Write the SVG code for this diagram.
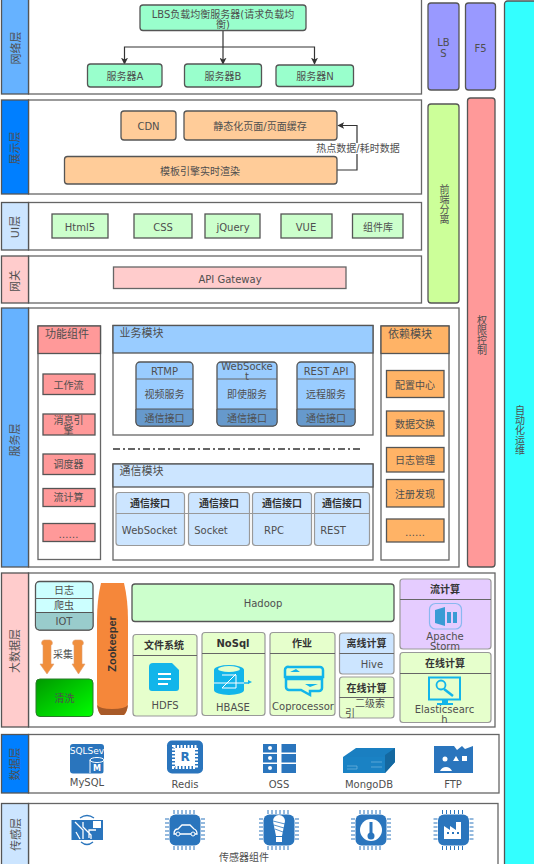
<svg xmlns="http://www.w3.org/2000/svg" width="534" height="864" viewBox="0 0 534 864">
<style>
text{font-family:"DejaVu Sans","Noto Sans CJK SC",sans-serif;font-size:10px;fill:#4f4f4f;text-anchor:middle;dominant-baseline:central}
.b{font-weight:bold;fill:#333}
.s{stroke:#555;stroke-width:1.3}
.body{fill:#fff;stroke:#666;stroke-width:1.3}
.g{fill:#99ffcc}.o{fill:#ffcc99}.u{fill:#ccffcc}.r{fill:#ff9999}.a{fill:#ffb366}.lb{fill:#99ccff}.pb{fill:#cce5ff}.pg{fill:#e6ffcc}.pu{fill:#e5ccff}
.c{stroke:#999;stroke-width:1.2}
.ln{stroke:#666;stroke-width:1;fill:none}
.ic{fill:#2a75bd}.ci{fill:#12b5ea}
.ll{font-size:11px}
.v{writing-mode:vertical-rl;text-orientation:upright}
</style>
<defs>
<marker id="ah" viewBox="0 0 10 10" refX="9" refY="5" markerWidth="7" markerHeight="7" orient="auto" markerUnits="userSpaceOnUse"><path d="M0 0L10 5L0 10L2.500 5Z" fill="#333"/></marker>
<linearGradient id="gr" x1="0" y1="0" x2="1" y2="1"><stop offset="0" stop-color="#009900"/><stop offset="1" stop-color="#00ff00"/></linearGradient>
<g id="chip"><g stroke="#2a75bd" stroke-width="1"><path d="M-11 -20V20M-7 -20V20M-3 -20V20M1 -20V20M5 -20V20M9 -20V20M-20 -11H20M-20 -7H20M-20 -3H20M-20 1H20M-20 5H20M-20 9H20"/></g><rect x="-16" y="-16" width="32" height="32" fill="#fff"/><rect x="-15.500" y="-15.500" width="31" height="31" rx="6" class="ic"/></g>
</defs>

<g id="side">
<g id="lbs"><rect x="428" y="3" width="31" height="87" rx="3" fill="#9999ff" class="s"/><text x="443.500" y="42">LB</text><text x="443.500" y="53">S</text></g>
<g id="f5"><rect x="465.500" y="3" width="30" height="87" rx="3" fill="#9999ff" class="s"/><text x="480.500" y="48">F5</text></g>
<g id="frontend"><rect x="428" y="104" width="31" height="199" rx="3" fill="#ccff99" class="s"/><text x="443.500" y="204" class="v">前端分离</text></g>
<g id="auth"><rect x="467.500" y="98" width="27.500" height="469" rx="3" fill="#ff9999" class="s"/><text x="481" y="335" class="v">权限控制</text></g>
<g id="ops"><rect x="504.500" y="1" width="32" height="870" rx="3" fill="#33ffff" class="s"/><text x="519" y="430" class="v">自动化运维</text></g>
</g>

<g id="layer-net"><rect x="28.500" y="-2" width="393" height="96" class="body"/><rect x="1.500" y="-2" width="27" height="96" fill="#66b2ff" class="s"/><text transform="translate(16 48) rotate(-90)" class="ll">网络层</text></g>
<g id="layer-show"><rect x="28.500" y="100" width="393" height="94" class="body"/><rect x="1.500" y="100" width="27" height="94" fill="#007fff" class="s"/><text transform="translate(15 148) rotate(-90)" class="ll">展示层</text></g>
<g id="layer-ui"><rect x="28.500" y="202.500" width="393" height="47.500" class="body"/><rect x="1.500" y="202.500" width="27" height="47.500" fill="#cce5ff" class="s"/><text transform="translate(15 227) rotate(-90)" class="ll">UI层</text></g>
<g id="layer-gw"><rect x="28.500" y="256" width="393" height="47" class="body"/><rect x="1.500" y="256" width="27" height="47" fill="#ffcccc" class="s"/><text transform="translate(15 281) rotate(-90)" class="ll">网关</text></g>
<g id="layer-svc"><rect x="28.500" y="308" width="430.500" height="259" class="body"/><rect x="1.500" y="308" width="27" height="259" fill="#66b2ff" class="s"/><text transform="translate(15 440) rotate(-90)" class="ll">服务层</text></g>
<g id="layer-big"><rect x="28.500" y="573" width="466.500" height="154" class="body"/><rect x="1.500" y="573" width="27" height="154" fill="#ffcccc" class="s"/><text transform="translate(15 651) rotate(-90)" class="ll">大数据层</text></g>
<g id="layer-data"><rect x="28.500" y="734.500" width="470.500" height="58.500" class="body"/><rect x="1.500" y="734.500" width="27" height="58.500" fill="#007fff" class="s"/><text transform="translate(15 764) rotate(-90)" class="ll">数据层</text></g>
<g id="layer-sensor"><rect x="28.500" y="803.500" width="469.500" height="70" class="body"/><rect x="1.500" y="803.500" width="27" height="70" fill="#cce5ff" class="s"/><text transform="translate(16 834.500) rotate(-90)" class="ll">传感层</text></g>

<g id="connectors" fill="none" stroke="#333" stroke-width="1.200">
<path d="M223 30V64" marker-end="url(#ah)"/>
<path d="M223 47H124.500V64" marker-end="url(#ah)"/>
<path d="M223 47H314.500V64" marker-end="url(#ah)"/>
<path d="M337 170H357V125.500H338" marker-end="url(#ah)"/>
</g>
<rect x="315" y="143" width="86" height="11" fill="#fff"/>
<text x="358" y="148.500">热点数据/耗时数据</text>

<g id="lb-main"><rect x="140" y="5" width="166" height="25.500" rx="3" class="g s"/><text x="223" y="14">LBS负载均衡服务器(请求负载均</text><text x="223" y="24">衡)</text></g>
<g id="srv-a"><rect x="87.500" y="64" width="74.500" height="23" rx="3" class="g s"/><text x="125" y="76">服务器A</text></g>
<g id="srv-b"><rect x="184.500" y="64" width="77" height="23" rx="3" class="g s"/><text x="223" y="76">服务器B</text></g>
<g id="srv-n"><rect x="276" y="65" width="77.500" height="21.500" rx="3" class="g s"/><text x="315" y="76">服务器N</text></g>

<g id="cdn"><rect x="121" y="111" width="55" height="29" rx="3" class="o s"/><text x="148.500" y="126">CDN</text></g>
<g id="static"><rect x="184" y="111" width="153" height="29" rx="3" class="o s"/><text x="260" y="126">静态化页面/页面缓存</text></g>
<g id="tpl"><rect x="64.500" y="156.500" width="272.500" height="27.500" rx="3" class="o s"/><text x="200" y="171">模板引擎实时渲染</text></g>

<g id="html5"><rect x="52" y="214" width="56" height="24" class="u s"/><text x="80" y="227">Html5</text></g>
<g id="css"><rect x="134" y="214" width="58" height="24" class="u s"/><text x="163" y="227">CSS</text></g>
<g id="jquery"><rect x="205" y="214" width="55" height="24" class="u s"/><text x="233" y="227">jQuery</text></g>
<g id="vue"><rect x="281" y="214" width="51" height="24" class="u s"/><text x="306" y="227">VUE</text></g>
<g id="lib"><rect x="352.500" y="214" width="50.500" height="24" class="u s"/><text x="378" y="227">组件库</text></g>

<g id="gateway"><rect x="113.500" y="267" width="232.500" height="21.500" fill="#ffcccc" stroke="#666" stroke-width="1.300"/><text x="230" y="279">API Gateway</text></g>

<g id="func">
<rect x="38" y="326" width="62.500" height="233.500" class="body"/><rect x="38" y="326" width="62.500" height="27.500" class="r s"/><text x="67" y="334" class="ll">功能组件</text>
<g class="r s"><rect x="43" y="374" width="52" height="20.500"/><rect x="43" y="414" width="52" height="21"/><rect x="43" y="454" width="52" height="20.500"/><rect x="43" y="488.500" width="52" height="18"/><rect x="43" y="523.500" width="52" height="18"/></g>
<text x="68.500" y="385">工作流</text><text x="68.500" y="420">消息引</text><text x="68.500" y="430">擎</text><text x="68.500" y="464">调度器</text><text x="68.500" y="497">流计算</text><text x="68.500" y="534">……</text>
</g>

<g id="biz">
<rect x="113" y="325.500" width="260" height="109.500" class="body"/><rect x="113" y="325.500" width="260" height="27.500" class="lb s"/><text x="119.500" y="333" style="text-anchor:start" class="ll">业务模块</text>
</g>
<g id="rtmp"><rect x="136" y="362" width="57" height="64" rx="4" class="lb s"/><path d="M136 409H193V422a4 4 0 0 1-4 4H140a4 4 0 0 1-4-4Z" fill="#6699cc" stroke="#555"/><path d="M136 379H193" class="ln"/><text x="164.500" y="371">RTMP</text><text x="164.500" y="394">视频服务</text><text x="164.500" y="418">通信接口</text></g>
<g id="ws"><rect x="217" y="362" width="60" height="64" rx="4" class="lb s"/><path d="M217 409H277V422a4 4 0 0 1-4 4H221a4 4 0 0 1-4-4Z" fill="#6699cc" stroke="#555"/><path d="M217 379H277" class="ln"/><text x="247" y="366">WebSocke</text><text x="247" y="376">t</text><text x="247" y="394">即使服务</text><text x="247" y="418">通信接口</text></g>
<g id="rest"><rect x="297" y="362" width="58" height="64" rx="4" class="lb s"/><path d="M297 409H355V422a4 4 0 0 1-4 4H301a4 4 0 0 1-4-4Z" fill="#6699cc" stroke="#555"/><path d="M297 379H355" class="ln"/><text x="326" y="371">REST API</text><text x="326" y="394">远程服务</text><text x="326" y="418">通信接口</text></g>

<path id="sep" d="M113 449H362" fill="none" stroke="#333" stroke-width="1.400" stroke-dasharray="7 3 2 3"/>

<g id="comm">
<rect x="113" y="464" width="260" height="96" class="body"/><rect x="113" y="464" width="260" height="23" class="pb s"/><text x="119.500" y="471" style="text-anchor:start" class="ll">通信模块</text>
<g class="pb c"><rect x="116" y="492.500" width="68.500" height="53" rx="3"/><rect x="188.500" y="492.500" width="61" height="53" rx="3"/><rect x="252.500" y="492.500" width="59" height="53" rx="3"/><rect x="314.500" y="492.500" width="55" height="53" rx="3"/></g>
<path d="M116 513.500H369.500" stroke="#999"/>
<text x="150" y="503" class="b">通信接口</text><text x="219" y="503" class="b">通信接口</text><text x="282" y="503" class="b">通信接口</text><text x="342" y="503" class="b">通信接口</text>
<text x="149.500" y="530">WebSocket</text><text x="211" y="530">Socket</text><text x="274" y="530">RPC</text><text x="333" y="530">REST</text>
</g>

<g id="dep">
<rect x="381" y="326" width="68" height="234" class="body"/><rect x="381" y="326" width="68" height="27.500" class="a s"/><text x="410" y="334" class="ll">依赖模块</text>
<g class="a s"><rect x="386.500" y="370.500" width="57.500" height="27"/><rect x="386.500" y="411" width="57.500" height="25"/><rect x="386.500" y="447.500" width="57.500" height="24.500"/><rect x="386.500" y="479.500" width="57.500" height="27.500"/><rect x="386.500" y="519" width="57.500" height="23"/></g>
<text x="415" y="385">配置中心</text><text x="415" y="424">数据交换</text><text x="415" y="460">日志管理</text><text x="415" y="494">注册发现</text><text x="415" y="532">……</text>
</g>

<g id="collect">
<rect x="35.500" y="581.500" width="57.500" height="48.500" rx="4" fill="#ccffff" class="s"/>
<path d="M35.500 612.500H93V626a4 4 0 0 1-4 4H39.500a4 4 0 0 1-4-4Z" fill="#99cccc" stroke="#555"/>
<path d="M35.500 598.500H93" class="ln"/>
<text x="64" y="590">日志</text><text x="64" y="605">爬虫</text><text x="64" y="621">IOT</text>
</g>
<g id="arrows" fill="#f08e3c" stroke="#e0a070" stroke-width=".6">
<path d="M44 640H50a3 3 0 0 1 1 5.500V664H54L47 674L40 664H43V645.500A3 3 0 0 1 44 640Z"/>
<path d="M75 640H81a3 3 0 0 1 1 5.500V664H85L78.500 674L72 664H74V645.500A3 3 0 0 1 75 640Z"/>
</g>
<text x="63" y="654">采集</text>
<g id="clean"><rect x="36" y="679" width="57" height="37.500" rx="4" fill="url(#gr)" stroke="#2a7a2a" stroke-width="1"/><text x="64.500" y="698">清洗</text></g>
<g id="zk"><path d="M101 583H124Q128 600 128 620V700Q128 712 124 715H101Q97 712 97 700V620Q97 600 101 583Z" fill="#f5873a"/><path d="M97 705Q98 712 101 715H124Q127 712 128 705Q125 709 112 709Q100 709 97 705Z" fill="#a85a28"/><text transform="translate(112 644) rotate(-90)" class="b" style='font-family:"Liberation Sans",sans-serif;font-size:11px'>Zookeeper</text></g>
<g id="hadoop"><rect x="132" y="584" width="262" height="37.500" rx="3" class="u s"/><text x="263" y="603">Hadoop</text></g>

<g id="hdfs"><rect x="133" y="634.500" width="64" height="81.500" rx="3" class="pg c"/><path d="M133 655.500H197" class="ln"/><text x="164" y="645" class="b">文件系统</text>
<path d="M153 663H172L179 670V688a3 3 0 0 1-3 3H152a3 3 0 0 1-3-3V667a4 4 0 0 1 4-4Z" class="ci"/><path d="M158 674H171M158 679H171M158 684H168" stroke="#fff" stroke-width="1.800"/><text x="165" y="705">HDFS</text></g>
<g id="hbase"><rect x="202" y="632.500" width="63" height="83" rx="3" class="pg c"/><path d="M202 653.500H265" class="ln"/><text x="233" y="643" class="b">NoSql</text>
<path d="M214 670a15 5 0 0 1 30 0V690a15 5 0 0 1-30 0Z" class="ci"/><ellipse cx="229" cy="669" rx="11" ry="3" fill="#e6ffcc"/><path d="M214 683H248M222 688L236 674M222 675H236V688H222" stroke="#fff" fill="none" stroke-width="1"/><path d="M244 683H249" stroke="#12b5ea" stroke-width="1.500"/><path d="M248 680L252 682L248 684Z" class="ci"/><text x="233" y="707">HBASE</text></g>
<g id="job"><rect x="270" y="632.500" width="65" height="83" rx="3" class="pg c"/><path d="M270 653.500H335" class="ln"/><text x="302" y="643" class="b">作业</text>
<path d="M289 667H320a3 3 0 0 1 3 3V677H285V670a3 3 0 0 1 4-3Z" fill="none" stroke="#12b5ea" stroke-width="2.500"/><path d="M286 679H322V688a3 3 0 0 1-3 3H310V695L301 690H289a3 3 0 0 1-3-3Z" fill="none" stroke="#12b5ea" stroke-width="2.500"/><path d="M290 672L300 672L296 669Z M318 684H305L310 687Z" class="ci"/><text x="303" y="706">Coprocessor</text></g>
<g id="offline"><rect x="339.500" y="633" width="54.500" height="41" rx="3" class="pb c"/><path d="M339.500 653.500H394" class="ln"/><text x="366.500" y="643" class="b">离线计算</text><text x="372" y="664">Hive</text></g>
<g id="online2"><rect x="339.500" y="677" width="54.500" height="41" rx="3" class="pg c"/><path d="M339.500 697.500H394" class="ln"/><text x="366.500" y="688" class="b">在线计算</text><text x="370" y="703">二级索</text><text x="350" y="713.500">引</text></g>
<g id="storm"><rect x="400" y="579" width="91" height="70" rx="3" class="pu c"/><path d="M400 599.500H491" class="ln"/><text x="445" y="589.500" class="b">流计算</text>
<rect x="429.500" y="603.500" width="32" height="25.500" rx="6" fill="none" stroke="#8ab8f0" stroke-width="1.200"/><path d="M435 610L445 607V626L435 623Z M447 612H451V623H447Z M453 612H457V623H453Z" fill="#3a9bd5"/><text x="445" y="636">Apache</text><text x="445" y="646">Storm</text></g>
<g id="es"><rect x="400" y="652.500" width="91" height="70" rx="3" class="pg c"/><path d="M400 673.500H491" class="ln"/><text x="445" y="663" class="b">在线计算</text>
<rect x="429" y="677.500" width="31" height="22" fill="none" stroke="#12b5ea" stroke-width="2"/><circle cx="441" cy="685" r="4.500" fill="none" stroke="#12b5ea" stroke-width="1.800"/><path d="M444 689L453 696" stroke="#12b5ea" stroke-width="2.500"/><path d="M442 700H448V703H453V705H437V703H442Z" class="ci"/><text x="444.500" y="709">Elasticsearc</text><text x="444.500" y="719">h</text></g>

<g id="mysql"><rect x="70" y="744" width="34" height="29.500" rx="3" class="ic"/><text x="87" y="751" style="fill:#fff;font-size:9px">SQLSev</text><ellipse cx="97" cy="760" rx="7" ry="2.500" fill="#2a75bd" stroke="#fff"/><path d="M90 760V773M104 760V773" stroke="#fff"/><text x="97" y="768" style="fill:#fff;font-size:8px;font-weight:bold">M</text><text x="87" y="782">MySQL</text></g>
<g id="redis"><rect x="167" y="740.500" width="36" height="33" rx="5" class="ic"/><rect x="173.500" y="746.500" width="23" height="21" fill="none" stroke="#fff" stroke-width="3" stroke-dasharray="2 1.500"/><rect x="175" y="748" width="20" height="18" fill="#fff"/><text x="185" y="757" style="fill:#2a75bd;font-size:12px;font-weight:bold">R</text><text x="185" y="784">Redis</text></g>
<g id="oss"><g class="ic"><rect x="263" y="744" width="14" height="8.500"/><rect x="263" y="754" width="14" height="8.500"/><rect x="263" y="764" width="14" height="9"/><rect x="281.500" y="744" width="14.500" height="8.500"/><rect x="281.500" y="754" width="14.500" height="8.500"/><rect x="281.500" y="764" width="14.500" height="9"/></g><circle cx="270" cy="748" r="2" fill="#fff"/><circle cx="270" cy="758" r="2" fill="#fff"/><circle cx="270" cy="768" r="2" fill="#fff"/><text x="279" y="784">OSS</text></g>
<g id="mongo"><path d="M343 757L356 748H395L395 762L385 773H343Z" fill="#1a7fc1"/><path d="M385 755L395 748V762L385 773Z" fill="#1468a0"/><path d="M343 757H385V773H343Z" fill="#1a82c4"/><path d="M347 766H357V769H347M371 762H382M371 767H382" stroke="#6ab0dc" fill="none" stroke-width=".8"/><text x="369" y="784">MongoDB</text></g>
<g id="ftp"><path d="M434 746H454L457 750L462 746L465 749L473 746V773H434Z" class="ic"/><circle cx="445" cy="759" r="2.500" fill="#fff"/><path d="M453 761L456 756L459 761Z" fill="#fff"/><rect x="462" y="756" width="5" height="5" fill="#fff"/><path d="M440 771Q442 767 446 767Q450 767 452 771Z" fill="#fff"/><text x="453" y="784">FTP</text></g>

<g id="sensor-1"><rect x="71.500" y="820" width="31.500" height="20" fill="#2a75bd"/><path d="M75 822L83 830V839M83 822V827L91 835V839M96 830H89V838M76 832L80 839" stroke="#fff" fill="none" stroke-width="1.300"/><rect x="93" y="821" width="8" height="7" fill="#fff"/><path d="M80 818Q87 813 94 818M81 842Q87 847 93 842" stroke="#2a75bd" fill="none" stroke-width="1.300"/></g>
<g id="sensor-2"><use href="#chip" x="185" y="830"/><path d="M174 834Q174 829 178 829L182 825H190L194 829Q197 830 197 834Z" fill="none" stroke="#fff" stroke-width="1.300"/><circle cx="178" cy="834" r="2" fill="#2a75bd" stroke="#fff"/><circle cx="193" cy="834" r="2" fill="#2a75bd" stroke="#fff"/></g>
<g id="sensor-3"><use href="#chip" x="279" y="830"/><path d="M273 821a6 6 0 0 1 12 0L282 836H276Z" fill="#fff"/><path d="M273 821L285 824M274 825L284 828M275 829L283 832" stroke="#2a75bd" stroke-width=".8"/><rect x="276" y="837" width="6" height="5" fill="#fff"/></g>
<g id="sensor-4"><use href="#chip" x="371" y="830"/><circle cx="371" cy="830" r="11" fill="#fff"/><rect x="369.500" y="822" width="3" height="12" fill="#2a75bd"/><circle cx="371" cy="836" r="3.500" fill="#2a75bd"/></g>
<g id="sensor-5"><use href="#chip" x="453.500" y="830"/><path d="M444 839V826L450 830V826L456 830V822H461V839Z" fill="#fff"/><rect x="447" y="832" width="2" height="2" fill="#2a75bd"/><rect x="452" y="832" width="2" height="2" fill="#2a75bd"/><rect x="457" y="832" width="2" height="2" fill="#2a75bd"/></g>
<text x="244" y="857">传感器组件</text>
</svg>
